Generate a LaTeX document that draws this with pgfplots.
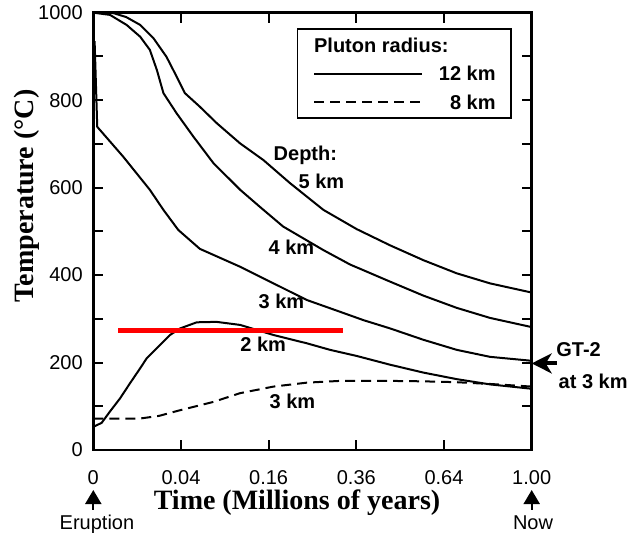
\documentclass[border=0pt]{standalone}
\usepackage{fontspec}
\setmainfont{Liberation Sans}
\newfontfamily\timesfont{Liberation Serif}
\usepackage{pgfplots}
\pgfplotsset{compat=1.18}
\usetikzlibrary{arrows.meta}
\begin{document}
\begin{tikzpicture}
\path[use as bounding box] (-46.65pt,-41.5pt) rectangle (274.35pt,225pt);
\begin{axis}[
  at={(0pt,0pt)}, anchor=south west,
  scale only axis, width=219.2pt, height=218.65pt,
  xmin=0, xmax=1, ymin=0, ymax=1000,
  clip=false,
  axis line style={line width=1.3pt},
  xtick={0,0.2,0.4,0.6,0.8,1},
  xticklabels={0,0.04,0.16,0.36,0.64,1.00},
  ytick={0,200,400,600,800,1000},
  minor ytick={100,300,500,700,900},
  tick align=inside,
  major tick length=5pt, minor tick length=5pt,
  tick style={black, line width=1pt},
  /pgf/number format/assume math mode=true,
  /pgf/number format/1000 sep={},
  tick label style={font=\fontsize{10}{12}\selectfont},
  xticklabel style={yshift=-6.5pt},
  yticklabel style={xshift=-1.8pt},
  legend cell align=right,
  legend style={at={(axis cs:0.464,964.3)}, anchor=north west,
    draw=black, line width=0.8pt,
    inner xsep=7.8pt, inner ysep=4.4pt,
    row sep=7.05pt, column sep=7.8pt,
    font=\bfseries\fontsize{10}{12}\selectfont,
    nodes={inner sep=0pt, text height=7.2pt, text depth=0pt}},
  legend image code/.code={\draw[#1] (0pt,0pt) -- (54pt,0pt);},
]
\addlegendimage{legend image code/.code={\node[anchor=west,inner sep=0pt,text height=7.2pt,text depth=0pt,font=\bfseries\fontsize{10}{12}\selectfont] at (-1pt,0pt) {\rlap{Pluton radius:}};}}
\addlegendentry{}

% 12 km pluton, depth 5 km
\addplot[black, line width=1pt, line join=round] coordinates {
(0,1000)(0.046,999)(0.075,990)(0.107,972)(0.137,942)(0.167,899)(0.190,854)(0.209,816)(0.243,785)(0.282,747)(0.335,701)(0.388,663)(0.449,610)(0.525,549)(0.601,505)(0.677,468)(0.753,434)(0.829,404)(0.905,381)(1.0,360)};
\addlegendentry{12 km}

% 12 km pluton, depth 4 km
\addplot[black, line width=1pt, line join=round, forget plot] coordinates {
(0,1000)(0.038,995)(0.076,972)(0.107,945)(0.129,915)(0.145,869)(0.160,816)(0.190,770)(0.228,717)(0.274,656)(0.335,595)(0.380,556)(0.433,511)(0.525,457)(0.586,424)(0.677,385)(0.753,353)(0.829,325)(0.905,302)(1.0,281)};

% 12 km pluton, depth 3 km
\addplot[black, line width=1pt, line join=round, forget plot] coordinates {
(0.003,935)(0.009,739)(0.068,671)(0.129,595)(0.160,549)(0.194,503)(0.243,460)(0.335,419)(0.411,381)(0.487,343)(0.563,316)(0.616,297)(0.677,278)(0.753,252)(0.829,229)(0.905,213)(1.0,204)};

% 12 km pluton, depth 2 km
\addplot[black, line width=1pt, line join=round, forget plot] coordinates {
(0,53)(0.019,62)(0.038,88)(0.061,118)(0.084,153)(0.107,187)(0.122,210)(0.145,233)(0.175,263)(0.198,278)(0.236,292)(0.281,293)(0.335,286)(0.411,263)(0.487,244)(0.540,229)(0.601,215)(0.677,195)(0.753,177)(0.829,162)(0.905,150)(1.0,140)};

% 8 km pluton, depth 3 km
\addplot[black, line width=1pt, dash pattern=on 5pt off 3pt] coordinates {
(0,72)(0.107,72)(0.150,78)(0.198,91)(0.274,110)(0.335,130)(0.411,145)(0.487,154)(0.563,158)(0.677,158)(0.753,157)(0.829,155)(0.905,151)(1.0,145)};
\addlegendentry{8 km}

% red reference line
\addplot[red, line width=2.6pt, forget plot] coordinates {(0.057,274)(0.570,274)};

% labels
\node[anchor=base west, font=\bfseries\fontsize{10}{12}\selectfont, inner sep=0pt] at (axis cs:0.4106,663) {Depth:};
\node[anchor=base west, font=\bfseries\fontsize{10}{12}\selectfont, inner sep=0pt] at (axis cs:0.4676,598) {5 km};
\node[anchor=base west, font=\bfseries\fontsize{10}{12}\selectfont, inner sep=0pt] at (axis cs:0.3992,448) {4 km};
\node[anchor=base west, font=\bfseries\fontsize{10}{12}\selectfont, inner sep=0pt] at (axis cs:0.3764,324) {3 km};
\node[anchor=base west, font=\bfseries\fontsize{10}{12}\selectfont, inner sep=0pt] at (axis cs:0.3346,225) {2 km};
\node[anchor=base west, font=\bfseries\fontsize{10}{12}\selectfont, inner sep=0pt] at (axis cs:0.4015,95) {3 km};
\node[anchor=base west, font=\bfseries\fontsize{10}{12}\selectfont, inner sep=0pt] at (axis cs:1.0554,213) {GT-2};
\node[anchor=base west, font=\bfseries\fontsize{10}{12}\selectfont, inner sep=0pt] at (axis cs:1.0607,141) {at 3 km};
\draw[line width=2pt, -{Stealth[length=10pt,width=10pt,inset=3pt]}] (axis cs:1.057,198) -- (axis cs:1.0,198);

% axis titles
\node[anchor=base, inner sep=0pt, font=\timesfont\bfseries\fontsize{14}{16}\selectfont] at (axis cs:0.4647,-137) {Time (Millions of years)};
\node[anchor=base, rotate=90, inner sep=0pt, font=\timesfont\bfseries\fontsize{14}{16}\selectfont] at (axis cs:-0.1364,581) {Temperature (°C)};

% eruption / now
\draw[line width=1pt, -{Triangle[length=7pt,width=8pt]}] (axis cs:0,-137) -- (axis cs:0,-91.5);
\draw[line width=1pt, -{Triangle[length=7pt,width=8pt]}] (axis cs:1,-137) -- (axis cs:1,-91.5);
\node[anchor=base, inner sep=0pt, font=\fontsize{10}{12}\selectfont] at (axis cs:0.0084,-180.7) {Eruption};
\node[anchor=base, inner sep=0pt, font=\fontsize{10}{12}\selectfont] at (axis cs:1.003,-180.7) {Now};
\end{axis}
\end{tikzpicture}
\end{document}
